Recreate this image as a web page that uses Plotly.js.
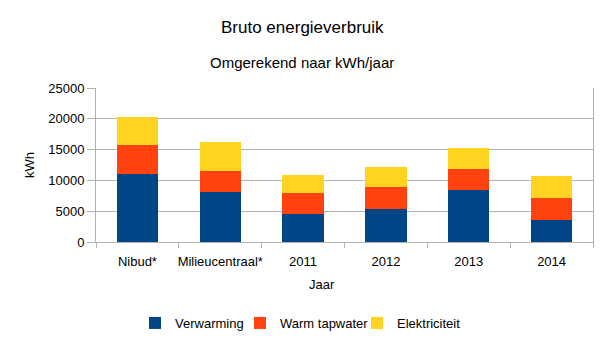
<!DOCTYPE html>
<html>
<head>
<meta charset="utf-8">
<script src="https://cdn.plot.ly/plotly-3.0.1.min.js"></script>
<style>html,body{margin:0;padding:0;background:#fff}#chart{width:605px;height:340px}</style>
</head>
<body>
<div id="chart"></div>
<script>
var categories = ["Nibud*", "Milieucentraal*", "2011", "2012", "2013", "2014"];
var verwarming = [11000, 8050, 4500, 5400, 8400, 3600];
var warmTapwater = [4750, 3550, 3500, 3600, 3500, 3600];
var elektriciteit = [4550, 4700, 2900, 3100, 3400, 3500];
var seriesNames = ["Verwarming", "Warm tapwater", "Elektriciteit"];
var seriesColors = ["#004586", "#ff420e", "#ffd320"];
var yTicks = [0, 5000, 10000, 15000, 20000, 25000];

var legendIds = ["legend", "legend2", "legend3"];
var values = [verwarming, warmTapwater, elektriciteit];
var data = values.map(function (v, i) {
  return {
    type: "bar",
    x: categories,
    y: v,
    name: seriesNames[i],
    legend: legendIds[i],
    marker: {color: seriesColors[i], line: {width: 0}},
    hoverinfo: "x+y+name"
  };
});

var font = "Liberation Sans, Arial, sans-serif";
function legendAt(px) {
  return {
    orientation: "h",
    x: px / 605, xref: "container", xanchor: "left",
    y: (340 - 323) / 340, yref: "container", yanchor: "middle",
    font: {size: 13, color: "#000"},
    itemwidth: 30,
    bgcolor: "rgba(0,0,0,0)"
  };
}
var layout = {
  width: 605,
  height: 340,
  barmode: "stack",
  bargap: 0.5,
  margin: {l: 96, r: 12, t: 88, b: 98, autoexpand: false},
  paper_bgcolor: "#fff",
  plot_bgcolor: "#fff",
  font: {family: font, size: 13, color: "#000"},
  showlegend: true,
  legend: legendAt(135),
  legend2: legendAt(240),
  legend3: legendAt(357),
  xaxis: {
    type: "category",
    showline: true,
    linecolor: "#b3b3b3",
    linewidth: 1,
    ticks: "outside",
    tickson: "boundaries",
    ticklen: 5,
    tickcolor: "#b3b3b3",
    tickangle: 0,
    ticklabelstandoff: 7,
    showgrid: false,
    tickfont: {size: 13, color: "#000"},
    fixedrange: true
  },
  yaxis: {
    range: [0, 25000],
    tickvals: yTicks,
    ticktext: yTicks.map(String),
    showline: true,
    mirror: true,
    linecolor: "#b3b3b3",
    linewidth: 1,
    ticks: "outside",
    ticklen: 8,
    tickcolor: "#b3b3b3",
    showgrid: true,
    gridcolor: "#b3b3b3",
    zeroline: false,
    tickfont: {size: 13, color: "#000"},
    title: {text: "kWh", font: {size: 13, color: "#000"}, standoff: 10},
    fixedrange: true
  },
  annotations: [
    {text: "Bruto energieverbruik", xref: "paper", yref: "paper", x: (302 - 96) / 497, y: 1 + (88 - 27) / 154, xanchor: "center", yanchor: "middle", showarrow: false, font: {size: 17, color: "#000"}},
    {text: "Omgerekend naar kWh/jaar", xref: "paper", yref: "paper", x: (302 - 96) / 497, y: 1 + (88 - 63) / 154, xanchor: "center", yanchor: "middle", showarrow: false, font: {size: 15, color: "#000"}},
    {text: "Jaar", xref: "paper", yref: "paper", x: (322 - 96) / 497, y: -(284 - 242) / 154, xanchor: "center", yanchor: "middle", showarrow: false, font: {size: 13, color: "#000"}}
  ]
};

Plotly.newPlot("chart", data, layout, {displayModeBar: false, staticPlot: true});
</script>
</body>
</html>
